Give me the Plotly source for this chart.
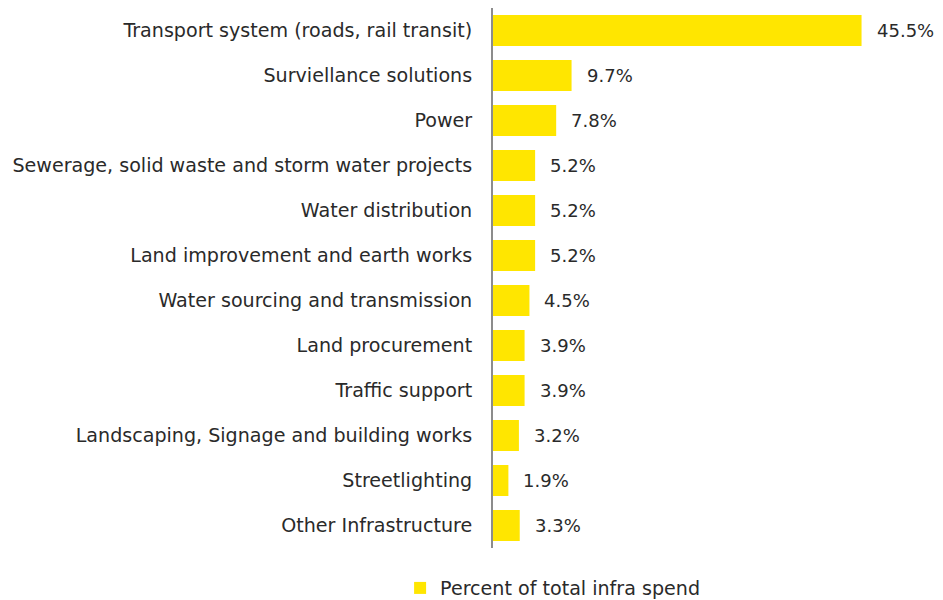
import plotly.graph_objects as go

categories = [
    "Transport system (roads, rail transit)",
    "Surviellance solutions",
    "Power",
    "Sewerage, solid waste and storm water projects",
    "Water distribution",
    "Land improvement and earth works",
    "Water sourcing and transmission",
    "Land procurement",
    "Traffic support",
    "Landscaping, Signage and building works",
    "Streetlighting",
    "Other Infrastructure",
]
values = [45.5, 9.7, 7.8, 5.2, 5.2, 5.2, 4.5, 3.9, 3.9, 3.2, 1.9, 3.3]
series_name = "Percent of total infra spend"

YELLOW = "#FFE600"
TEXT = "#2a2a2a"
FONT = "DejaVu Sans"
LABEL_SIZE = 19.1

fig = go.Figure(
    go.Bar(
        x=values,
        y=categories,
        orientation="h",
        name=series_name,
        marker=dict(color=YELLOW, line=dict(width=0)),
        showlegend=True,
    )
)

# value labels placed just right of each bar end
for cat, v in zip(categories, values):
    fig.add_annotation(
        x=v, y=cat, text=f"{v:.1f}%", showarrow=False,
        xanchor="left", xshift=13, font=dict(family=FONT, size=18, color=TEXT),
    )

fig.update_layout(
    width=943, height=600,
    margin=dict(l=493, r=45, t=8, b=52),
    paper_bgcolor="white", plot_bgcolor="white",
    bargap=0.31,
    font=dict(family=FONT, size=LABEL_SIZE, color=TEXT),
    xaxis=dict(range=[0, 50], visible=False, fixedrange=True, automargin=False),
    yaxis=dict(
        autorange="reversed", showline=True, linecolor="#8c8c8c", linewidth=2,
        ticks="outside", ticklen=15, tickcolor="rgba(0,0,0,0)", automargin=False,
        showgrid=False, tickfont=dict(family=FONT, size=LABEL_SIZE, color=TEXT),
    ),
    legend=dict(
        orientation="h", xref="container", yref="container",
        x=0.586, xanchor="center", y=0.02, yanchor="middle",
        font=dict(family=FONT, size=LABEL_SIZE, color=TEXT),
        itemwidth=30,
    ),
)

fig.write_html("out.html")
